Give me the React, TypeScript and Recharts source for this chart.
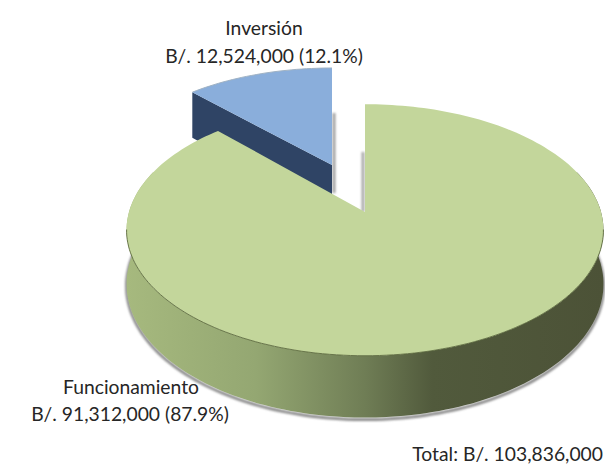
import { Cell, Pie, PieChart } from "recharts"

const categories = ["Inversión", "Funcionamiento"]
const amounts = [12524000, 91312000]
const shares = ["12.1%", "87.9%"]
const totalLabel = "Total: B/. 103,836,000"

const topColors = ["#8aaedb", "#c3d69b"]

const data = categories.map((name, i) => ({ name, value: amounts[i], share: shares[i] }))
const total = amounts[0] + amounts[1]
const startAngle = 90 + (360 * amounts[0]) / total

// perspective of the tilted disc, fitted to the picture
const tilt = 1 / 7
const squash = 0.522
const depth = 53
const explodeX = -33
const explodeV = 0.403
const rad = Math.PI / 180
const textFont = "Lato"
const textSize = 19.3

type Pt = [number, number]

function project(cx: number, cy: number, r: number, angle: number, dist: number, ox: number, ov: number, drop: number): Pt {
  const u = dist * Math.cos(angle * rad)
  const v = dist * Math.sin(angle * rad) + ov
  const w = 1 + tilt * v
  return [cx + ox + (r * u) / w, cy - (r * squash * v) / w + (drop ? drop / w : 0)]
}

function toPath(points: Pt[], close = true) {
  const body = points.map((p, i) => `${i ? "L" : "M"}${p[0].toFixed(1)} ${p[1].toFixed(1)}`).join(" ")
  return close ? body + " Z" : body
}

function arc(s: number, e: number) {
  const n = Math.max(2, Math.ceil(Math.abs(s - e) / 1.5))
  return Array.from({ length: n + 1 }, (_, i) => s + ((e - s) * i) / n)
}

function Slice3D(props: any) {
  const { cx, cy, outerRadius: r, startAngle: s, endAngle: e, fill, name } = props
  const exploded = name === categories[0]
  const ox = exploded ? explodeX : 0
  const ov = exploded ? explodeV : 0
  const rim = (a: number, drop = 0) => project(cx, cy, r, a, 1, ox, ov, drop)
  const apex = (drop = 0) => project(cx, cy, r, 0, 0, ox, ov, drop)
  const angles = arc(s, e)
  const top = [apex(), ...angles.map((a) => rim(a))]
  const [ax, ay] = apex()

  if (exploded) {
    const cut = [rim(s), apex(), apex(depth), rim(s, depth)]
    return (
      <g>
        <rect x={ax + 0.5} y={ay - 52} width={3} height={80} fill="#a0a0a0" filter="url(#soft)" />
        <path d={toPath(cut)} fill="#2f4465" />
        <path d={toPath(top)} fill={fill} />
        <path d={toPath(angles.map((a) => rim(a)), false)} fill="none" stroke="#9fb2c4" strokeWidth={1} />
      </g>
    )
  }
  const wallAngles = arc(-200, 20)
  const bottom = wallAngles.map((a) => rim(a, depth))
  const wall = [...wallAngles.map((a) => rim(a)), ...bottom.slice().reverse()]
  const front = arc(-172, -8).map((a) => rim(a))
  return (
    <g>
      <rect x={ax - 3.5} y={ay - 60} width={3} height={60} fill="#a8a8a8" filter="url(#soft)" />
      <path d={toPath(bottom, false)} fill="none" stroke="#8a8a8a" strokeWidth={3} transform="translate(0 2)" filter="url(#soft)" />
      <path d={toPath(wall)} fill="url(#wallGrad)" />
      <path d={toPath(top)} fill={fill} />
      <path d={toPath(front, false)} fill="none" stroke="#5d6b40" strokeWidth={0.9} />
    </g>
  )
}

function SliceLabel(props: any) {
  const { name, value, share } = props
  const first = name === categories[0]
  const line2 = `B/. ${value.toLocaleString("en-US")} (${share})`
  return (
    <text textAnchor="middle" fontFamily={textFont} fontSize={textSize} fill="#262626">
      <tspan x={first ? 264 : 131} y={first ? 35 : 394}>{name}</tspan>
      <tspan x={first ? 264 : 130} y={first ? 63 : 421}>{line2}</tspan>
    </text>
  )
}

export default function App() {
  return (
    <div style={{ position: "absolute", left: 0, top: 0, width: 605, height: 468, background: "#fff" }}>
      <PieChart width={605} height={468} margin={{ top: 0, right: 0, bottom: 0, left: 0 }}>
        <defs>
          <linearGradient id="wallGrad" gradientUnits="userSpaceOnUse" x1="127" y1="0" x2="604" y2="0">
            <stop offset="0" stopColor="#a6b97e" />
            <stop offset="0.27" stopColor="#94a772" />
            <stop offset="0.5" stopColor="#6f7d55" />
            <stop offset="0.64" stopColor="#515a3c" />
            <stop offset="1" stopColor="#4c5237" />
          </linearGradient>
          <filter id="soft" filterUnits="userSpaceOnUse" x="0" y="0" width="605" height="468">
            <feGaussianBlur stdDeviation="1" />
          </filter>
        </defs>
        <Pie
          data={data}
          dataKey="value"
          nameKey="name"
          cx={365}
          cy={212}
          innerRadius={0}
          outerRadius={236}
          startAngle={startAngle}
          endAngle={startAngle - 360}
          shape={Slice3D}
          label={SliceLabel}
          labelLine={false}
          stroke="none"
          isAnimationActive={false}
        >
          {data.map((d, i) => (
            <Cell key={d.name} fill={topColors[i]} />
          ))}
        </Pie>
        <text x={603} y={461} textAnchor="end" fontFamily={textFont} fontSize={textSize} fill="#262626">
          {totalLabel}
        </text>
      </PieChart>
    </div>
  )
}
